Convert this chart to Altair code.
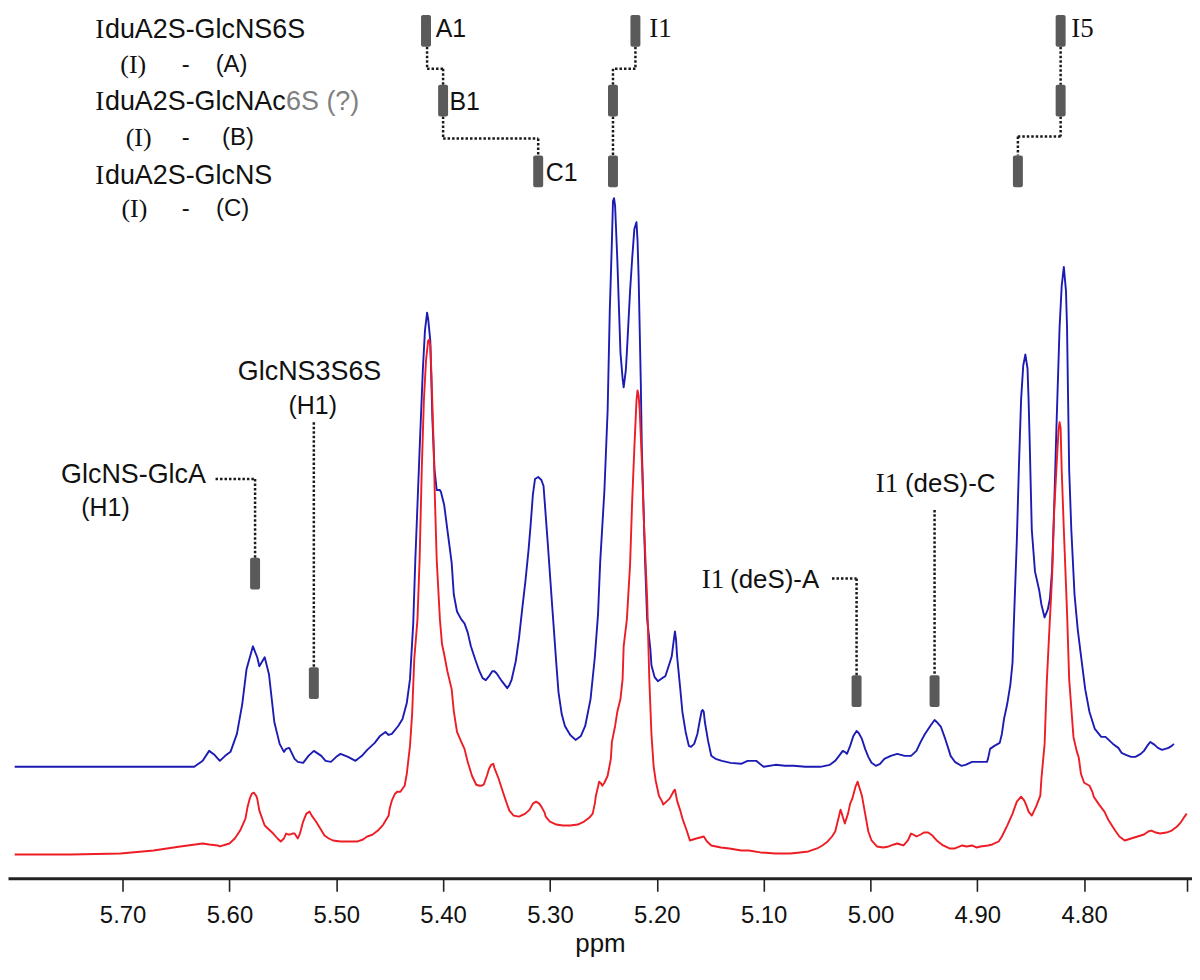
import altair as alt
import pandas as pd

# ---- spectrum data (ppm, intensity above own baseline, arbitrary units) ----
blue_points = [
    (5.801, 0), (5.633, 0), (5.625, 6), (5.619, 16), (5.614, 12), (5.609, 6), (5.604, 11), (5.599, 15),
    (5.593, 33), (5.588, 63), (5.584, 98), (5.578, 121), (5.574, 110), (5.572, 101), (5.567, 110),
    (5.563, 93), (5.558, 45), (5.553, 23), (5.549, 15), (5.547, 18), (5.544, 19), (5.539, 8), (5.536, 5),
    (5.531, 4), (5.526, 11), (5.521, 16), (5.514, 11), (5.510, 6), (5.505, 5), (5.500, 10), (5.496, 13),
    (5.489, 10), (5.482, 6), (5.476, 11), (5.471, 17), (5.464, 24), (5.459, 31), (5.454, 35), (5.451, 32),
    (5.448, 33), (5.442, 41), (5.438, 48), (5.434, 64), (5.431, 88), (5.428, 143), (5.426, 208),
    (5.422, 318), (5.419, 398), (5.417, 438), (5.415, 456), (5.414, 450), (5.412, 428), (5.410, 348),
    (5.408, 298), (5.406, 278), (5.403, 278), (5.402, 276), (5.399, 263), (5.396, 238), (5.392, 205),
    (5.390, 173), (5.387, 156), (5.383, 148), (5.380, 144), (5.377, 135), (5.374, 121), (5.370, 108),
    (5.366, 96), (5.363, 89), (5.360, 87), (5.357, 91), (5.354, 96), (5.352, 96), (5.350, 94),
    (5.345, 86), (5.340, 79), (5.338, 82), (5.336, 87), (5.332, 106), (5.329, 129), (5.326, 158),
    (5.323, 186), (5.320, 218), (5.318, 244), (5.316, 273), (5.314, 289), (5.311, 291), (5.308, 288),
    (5.306, 282), (5.304, 253), (5.302, 224), (5.299, 178), (5.297, 148), (5.294, 103), (5.292, 75),
    (5.289, 53), (5.286, 41), (5.281, 32), (5.276, 27), (5.271, 31), (5.267, 41), (5.262, 68),
    (5.258, 110), (5.255, 153), (5.253, 205), (5.249, 278), (5.246, 358), (5.244, 458), (5.242, 528),
    (5.241, 568), (5.240, 571), (5.239, 563), (5.237, 511), (5.235, 448), (5.234, 416), (5.232, 390),
    (5.231, 381), (5.229, 398), (5.228, 416), (5.225, 478), (5.223, 511), (5.221, 540), (5.219, 547),
    (5.218, 528), (5.217, 492), (5.215, 388), (5.214, 320), (5.211, 208), (5.209, 148), (5.206, 118),
    (5.205, 102), (5.202, 90), (5.199, 86), (5.195, 89), (5.192, 91), (5.188, 104), (5.186, 111),
    (5.184, 128), (5.183, 136), (5.182, 128), (5.181, 111), (5.178, 78), (5.176, 55), (5.173, 35),
    (5.170, 21), (5.168, 20), (5.165, 23), (5.162, 33), (5.160, 45), (5.158, 56), (5.157, 57),
    (5.156, 55), (5.155, 45), (5.152, 26), (5.149, 11), (5.145, 8), (5.139, 6), (5.131, 4), (5.121, 3),
    (5.115, 6), (5.107, 6), (5.100, 0), (5.089, 2), (5.080, 1), (5.072, 1), (5.061, 0), (5.047, 0),
    (5.038, 2), (5.033, 6), (5.028, 13), (5.026, 16), (5.024, 15), (5.022, 13), (5.019, 21), (5.016, 31),
    (5.013, 36), (5.011, 34), (5.008, 28), (5.005, 18), (5.002, 10), (4.999, 4), (4.995, 1), (4.991, 3),
    (4.987, 8), (4.981, 11), (4.975, 13), (4.968, 11), (4.962, 11), (4.957, 16), (4.953, 25), (4.949, 33),
    (4.944, 41), (4.940, 47), (4.938, 45), (4.934, 40), (4.930, 28), (4.927, 18), (4.925, 11), (4.921, 5),
    (4.915, 1), (4.911, 2), (4.905, 5), (4.899, 5), (4.891, 5), (4.890, 8), (4.888, 18), (4.884, 21),
    (4.879, 24), (4.877, 33), (4.875, 48), (4.872, 63), (4.869, 83), (4.867, 105), (4.866, 138),
    (4.863, 227), (4.861, 303), (4.859, 369), (4.857, 403), (4.855, 414), (4.853, 400), (4.852, 369),
    (4.851, 328), (4.849, 238), (4.846, 196), (4.842, 177), (4.840, 163), (4.837, 150), (4.834, 158),
    (4.832, 169), (4.830, 198), (4.828, 262), (4.826, 338), (4.823, 441), (4.821, 483), (4.819, 502),
    (4.817, 478), (4.816, 441), (4.815, 368), (4.814, 298), (4.812, 238), (4.809, 173), (4.806, 138),
    (4.803, 112), (4.799, 78), (4.795, 55), (4.790, 38), (4.784, 30), (4.780, 30), (4.777, 27),
    (4.773, 23), (4.768, 19), (4.765, 14), (4.761, 12), (4.756, 10), (4.752, 10), (4.747, 13),
    (4.744, 16), (4.741, 21), (4.738, 25), (4.734, 22), (4.731, 19), (4.727, 17), (4.724, 18),
    (4.721, 19), (4.718, 21), (4.716, 23),
]

red_points = [
    (5.801, 0), (5.748, 0), (5.702, 1), (5.671, 4), (5.646, 8), (5.625, 11), (5.619, 10), (5.611, 9),
    (5.609, 8), (5.600, 11), (5.595, 16), (5.590, 24), (5.585, 36), (5.583, 48), (5.581, 56), (5.579, 61),
    (5.577, 62), (5.575, 59), (5.574, 56), (5.572, 44), (5.567, 29), (5.562, 24), (5.559, 21), (5.555, 16),
    (5.552, 13), (5.549, 16), (5.547, 21), (5.545, 20), (5.543, 20), (5.541, 21), (5.539, 21), (5.536, 16),
    (5.534, 21), (5.531, 33), (5.528, 41), (5.525, 43), (5.523, 39), (5.519, 33), (5.515, 26), (5.511, 19),
    (5.507, 16), (5.503, 14), (5.496, 13), (5.489, 13), (5.480, 13), (5.475, 15), (5.471, 18), (5.466, 20),
    (5.461, 24), (5.456, 30), (5.451, 39), (5.450, 46), (5.448, 54), (5.445, 61), (5.443, 63), (5.440, 63),
    (5.438, 66), (5.436, 69), (5.434, 81), (5.431, 109), (5.429, 141), (5.427, 196), (5.424, 236),
    (5.422, 296), (5.420, 386), (5.418, 456), (5.416, 496), (5.414, 516), (5.413, 517), (5.412, 511),
    (5.411, 485), (5.409, 416), (5.408, 370), (5.406, 296), (5.403, 236), (5.401, 211), (5.399, 201),
    (5.396, 184), (5.392, 166), (5.390, 144), (5.387, 123), (5.383, 113), (5.380, 106), (5.377, 93),
    (5.373, 79), (5.369, 70), (5.366, 69), (5.364, 69), (5.362, 70), (5.359, 79), (5.357, 86), (5.355, 90),
    (5.353, 91), (5.352, 87), (5.348, 76), (5.345, 66), (5.341, 53), (5.338, 44), (5.334, 39), (5.329, 38),
    (5.323, 41), (5.319, 45), (5.316, 51), (5.313, 53), (5.310, 51), (5.308, 48), (5.305, 42), (5.304, 38),
    (5.300, 33), (5.294, 30), (5.288, 29), (5.281, 29), (5.274, 30), (5.268, 33), (5.263, 37), (5.260, 41),
    (5.258, 51), (5.257, 59), (5.255, 68), (5.254, 73), (5.252, 71), (5.251, 69), (5.249, 72), (5.246, 79),
    (5.243, 96), (5.242, 113), (5.239, 129), (5.237, 143), (5.234, 156), (5.232, 176), (5.231, 209),
    (5.228, 236), (5.225, 291), (5.223, 356), (5.221, 408), (5.219, 456), (5.218, 466), (5.217, 461),
    (5.216, 446), (5.214, 396), (5.212, 332), (5.209, 256), (5.207, 176), (5.205, 121), (5.203, 89),
    (5.201, 74), (5.198, 59), (5.195, 53), (5.194, 50), (5.190, 54), (5.188, 56), (5.184, 64), (5.183, 65),
    (5.181, 54), (5.178, 44), (5.176, 36), (5.172, 24), (5.169, 14), (5.163, 16), (5.156, 18), (5.153, 13),
    (5.149, 9), (5.140, 7), (5.132, 6), (5.121, 4), (5.114, 4), (5.103, 2), (5.089, 1), (5.075, 1),
    (5.066, 2), (5.058, 3), (5.050, 6), (5.045, 9), (5.040, 13), (5.036, 18), (5.033, 23), (5.030, 36),
    (5.028, 45), (5.026, 38), (5.024, 31), (5.021, 41), (5.019, 51), (5.017, 56), (5.014, 68), (5.012, 73),
    (5.010, 66), (5.008, 59), (5.005, 41), (5.002, 23), (4.999, 14), (4.994, 8), (4.988, 7), (4.983, 8),
    (4.978, 10), (4.975, 11), (4.972, 10), (4.969, 9), (4.965, 14), (4.962, 21), (4.960, 20), (4.957, 18),
    (4.953, 20), (4.950, 22), (4.946, 22), (4.942, 19), (4.938, 14), (4.932, 9), (4.926, 6), (4.921, 6),
    (4.914, 9), (4.910, 8), (4.905, 9), (4.901, 7), (4.897, 8), (4.890, 9), (4.886, 10), (4.880, 13),
    (4.877, 18), (4.872, 29), (4.867, 41), (4.863, 53), (4.859, 58), (4.856, 54), (4.854, 49), (4.852, 43),
    (4.849, 39), (4.845, 48), (4.841, 59), (4.840, 76), (4.837, 111), (4.835, 172), (4.833, 216),
    (4.830, 279), (4.828, 346), (4.826, 386), (4.824, 426), (4.823, 434), (4.822, 428), (4.821, 386),
    (4.819, 326), (4.816, 243), (4.814, 176), (4.810, 118), (4.807, 104), (4.805, 97), (4.803, 81),
    (4.800, 72), (4.795, 69), (4.792, 62), (4.791, 58), (4.786, 50), (4.781, 43), (4.777, 34), (4.771, 24),
    (4.767, 18), (4.762, 14), (4.756, 16), (4.750, 18), (4.744, 20), (4.740, 23), (4.737, 24), (4.733, 22),
    (4.729, 21), (4.723, 22), (4.718, 24), (4.713, 28), (4.709, 33), (4.706, 38), (4.704, 41),
]

# vertical stacking of the two traces (units of the y scale)
BLUE_OFFSET = 112
RED_OFFSET = 24

tick_ppm = [5.70, 5.60, 5.50, 5.40, 5.30, 5.20, 5.10, 5.00, 4.90, 4.80]
axis_end_ppm = 4.7037
X_DOMAIN = [4.7037, 5.8026]
Y_DOMAIN = [0, 872]

# ---- annotation data ----
# marker bars: (ppm, y bottom, y top)
marker_bars = [
    (5.416, 835, 867), (5.400, 765, 797), (5.311, 694, 726),
    (5.220, 835, 867), (5.241, 765, 797), (5.241, 694, 726),
    (4.822, 835, 867), (4.822, 765, 797), (4.862, 694, 726),
    (5.576, 290, 322), (5.521, 180, 212),
    (5.013, 172, 204), (4.940, 172, 204),
]
# dotted connector segments: (ppm, y, ppm2, y2)
connectors = [
    (5.415, 835, 5.415, 813), (5.415, 813, 5.400, 813), (5.400, 813, 5.400, 797),
    (5.400, 765, 5.400, 743), (5.400, 743, 5.311, 743), (5.311, 743, 5.311, 726),
    (5.220, 835, 5.220, 813), (5.220, 813, 5.241, 813), (5.241, 813, 5.241, 797),
    (5.241, 765, 5.241, 726),
    (4.822, 835, 4.822, 797),
    (4.822, 765, 4.822, 745), (4.822, 745, 4.862, 745), (4.862, 745, 4.862, 726),
    (5.613, 401, 5.576, 401), (5.576, 401, 5.576, 322),
    (5.521, 458, 5.521, 212),
    (5.036, 301, 5.013, 301), (5.013, 301, 5.013, 204),
    (4.940, 370, 4.940, 204),
]

names_sans_left = [("duA2S-GlcNS6S", 5.7165, 852), ("duA2S-GlcNAc", 5.7165, 780), ("duA2S-GlcNS", 5.7165, 705)]
names_grey = [("6S (?)", 5.547, 780)]
serif_left = [("I", 5.7255, 852), ("I", 5.7255, 780), ("I", 5.7255, 705)]
serif_labels = [("I1", 5.207, 853), ("I5", 4.812, 853)]
serif_center = [("(I)", 5.690, 817), ("(I)", 5.685, 743), ("(I)", 5.689, 672)]
sans_center_small = [("-", 5.641, 817), ("-", 5.641, 743), ("-", 5.641, 672),
                     ("(A)", 5.598, 817), ("(B)", 5.592, 743), ("(C)", 5.597, 672)]
peak_labels = [("A1", 5.407, 853), ("B1", 5.394, 780), ("C1", 5.304, 708)]
sans_center = [("GlcNS3S6S", 5.525, 508)]
h1_labels = [("(H1)", 5.522, 474), ("(H1)", 5.716, 372)]
sans_right_big = [("GlcNS-GlcA", 5.622, 405)]
sans_right = [("(deS)-A", 5.048, 300), ("(deS)-C", 4.883, 396)]
serif_right = [("I1", 5.137, 300), ("I1", 4.974, 396)]

# ---- build chart ----
SANS = "Liberation Sans"
SERIF = "Liberation Serif"

x_enc = alt.X(
    "ppm:Q",
    scale=alt.Scale(domain=X_DOMAIN, reverse=True, nice=False, zero=False),
    axis=alt.Axis(
        values=tick_ppm + [axis_end_ppm],
        labelExpr="datum.value < 4.75 ? '' : format(datum.value, '.2f')",
        labelOverlap=False,
        labelFont=SANS, labelFontSize=24, labelColor="#111", labelPadding=12,
        tickSize=13, tickWidth=1.6, tickColor="#222",
        domainColor="#222", domainWidth=3, grid=False,
        title="ppm", titleFont=SANS, titleFontSize=26, titleFontWeight="normal",
        titleColor="#111", titlePadding=3,
    ),
)
y_enc = alt.Y("y:Q", scale=alt.Scale(domain=Y_DOMAIN, nice=False, zero=False), axis=None)

blue_df = pd.DataFrame(blue_points, columns=["ppm", "intensity"])
blue_df["y"] = blue_df["intensity"] + BLUE_OFFSET
red_df = pd.DataFrame(red_points, columns=["ppm", "intensity"])
red_df["y"] = red_df["intensity"] + RED_OFFSET

blue_line = alt.Chart(blue_df).mark_line(color="#1c1cb4", strokeWidth=1.9, strokeJoin="round").encode(
    x=x_enc, y=y_enc)
red_line = alt.Chart(red_df).mark_line(color="#ee1c24", strokeWidth=1.9, strokeJoin="round").encode(
    x=x_enc, y=y_enc)

bars_df = pd.DataFrame(marker_bars, columns=["ppm", "y", "y2"])
bars = alt.Chart(bars_df).mark_bar(width=10, cornerRadius=2, color="#5a5a5a").encode(
    x=x_enc, y=y_enc, y2="y2:Q")

conn_df = pd.DataFrame(connectors, columns=["ppm", "y", "ppm2", "y2"])
conns = alt.Chart(conn_df).mark_rule(color="#1a1a1a", strokeWidth=2.5, strokeDash=[2.5, 2]).encode(
    x=x_enc, x2="ppm2:Q", y=y_enc, y2="y2:Q")


def text_layer(rows, font, size, align, color="#111"):
    df = pd.DataFrame(rows, columns=["label", "ppm", "y"])
    return alt.Chart(df).mark_text(
        font=font, fontSize=size, align=align, baseline="middle", color=color
    ).encode(x=x_enc, y=y_enc, text="label:N")


texts = [
    text_layer(names_sans_left, SANS, 27, "left"),
    text_layer(names_grey, SANS, 27, "left", color="#808080"),
    text_layer(serif_left, SERIF, 27, "left"),
    text_layer(serif_labels, SERIF, 27, "left"),
    text_layer(serif_center, SERIF, 26, "center"),
    text_layer(sans_center_small, SANS, 24, "center"),
    text_layer(peak_labels, SANS, 25, "left"),
    text_layer(sans_center, SANS, 27, "center"),
    text_layer(h1_labels, SANS, 25, "center"),
    text_layer(sans_right_big, SANS, 27, "right"),
    text_layer(sans_right, SANS, 26, "right"),
    text_layer(serif_right, SERIF, 27, "right"),
]

chart = alt.layer(blue_line, red_line, conns, bars, *texts).properties(
    width=1189, height=872, padding=0, background="white"
).configure_view(stroke=None)

chart.save("out.html", embed_options={"renderer": "svg", "actions": False})
